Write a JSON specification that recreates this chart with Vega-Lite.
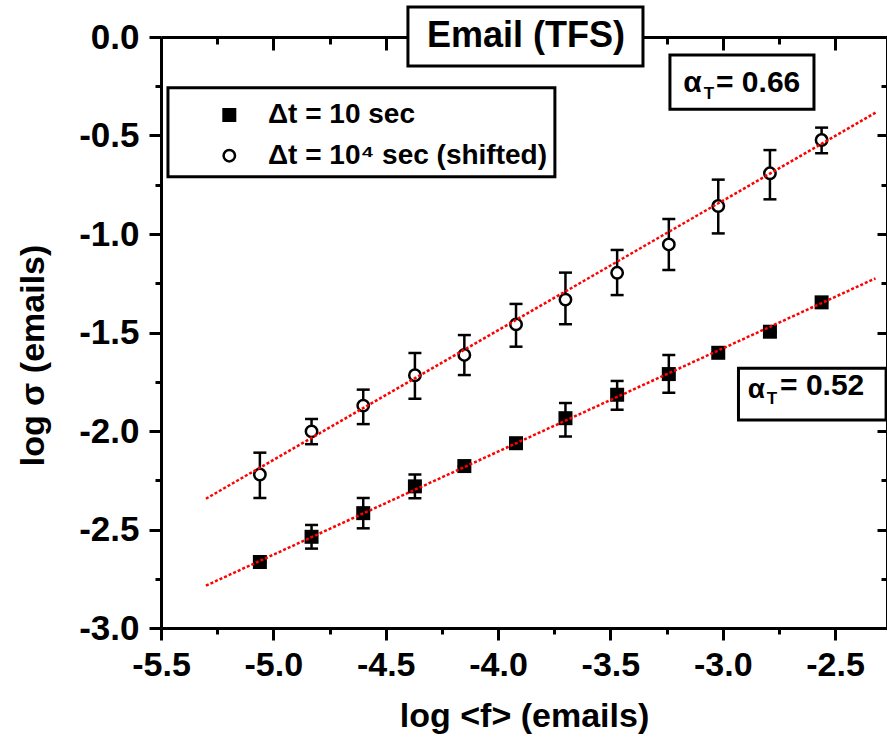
{
  "$schema": "https://vega.github.io/schema/vega-lite/v6.json",
  "width": 726,
  "height": 591,
  "autosize": "none",
  "padding": {"left": 161, "top": 37, "right": 0, "bottom": 115},
  "background": "white",
  "config": {"view": {"stroke": null}, "font": "Liberation Sans"},
  "datasets": {
    "pts": [
      {"series": "10 sec", "x": -5.06, "y": -2.665, "lo": -2.665, "hi": -2.665},
      {"series": "10 sec", "x": -4.83, "y": -2.537, "lo": -2.597, "hi": -2.477},
      {"series": "10 sec", "x": -4.60, "y": -2.417, "lo": -2.494, "hi": -2.340},
      {"series": "10 sec", "x": -4.37, "y": -2.281, "lo": -2.341, "hi": -2.221},
      {"series": "10 sec", "x": -4.15, "y": -2.178, "lo": -2.178, "hi": -2.178},
      {"series": "10 sec", "x": -3.92, "y": -2.062, "lo": -2.062, "hi": -2.062},
      {"series": "10 sec", "x": -3.70, "y": -1.935, "lo": -2.028, "hi": -1.858},
      {"series": "10 sec", "x": -3.47, "y": -1.816, "lo": -1.892, "hi": -1.746},
      {"series": "10 sec", "x": -3.24, "y": -1.711, "lo": -1.806, "hi": -1.614},
      {"series": "10 sec", "x": -3.02, "y": -1.603, "lo": -1.603, "hi": -1.603},
      {"series": "10 sec", "x": -2.79, "y": -1.496, "lo": -1.496, "hi": -1.496},
      {"series": "10 sec", "x": -2.56, "y": -1.347, "lo": -1.347, "hi": -1.347},
      {"series": "shifted", "x": -5.06, "y": -2.221, "lo": -2.340, "hi": -2.110},
      {"series": "shifted", "x": -4.83, "y": -2.002, "lo": -2.067, "hi": -1.939},
      {"series": "shifted", "x": -4.60, "y": -1.871, "lo": -1.965, "hi": -1.790},
      {"series": "shifted", "x": -4.37, "y": -1.717, "lo": -1.836, "hi": -1.604},
      {"series": "shifted", "x": -4.15, "y": -1.614, "lo": -1.716, "hi": -1.513},
      {"series": "shifted", "x": -3.92, "y": -1.459, "lo": -1.572, "hi": -1.355},
      {"series": "shifted", "x": -3.70, "y": -1.333, "lo": -1.458, "hi": -1.196},
      {"series": "shifted", "x": -3.47, "y": -1.197, "lo": -1.310, "hi": -1.081},
      {"series": "shifted", "x": -3.24, "y": -1.053, "lo": -1.183, "hi": -0.924},
      {"series": "shifted", "x": -3.02, "y": -0.858, "lo": -0.997, "hi": -0.724},
      {"series": "shifted", "x": -2.79, "y": -0.692, "lo": -0.824, "hi": -0.574},
      {"series": "shifted", "x": -2.56, "y": -0.523, "lo": -0.590, "hi": -0.460}
    ],
    "fits": [
      {"series": "10 sec", "x": -5.30, "y": -2.785},
      {"series": "10 sec", "x": -2.32, "y": -1.225},
      {"series": "shifted", "x": -5.30, "y": -2.344},
      {"series": "shifted", "x": -2.32, "y": -0.384}
    ]
  },
  "layer": [
    {
      "data": {"name": "pts"},
      "mark": {"type": "rule", "color": "black", "strokeWidth": 2.5},
      "encoding": {
        "x": {
          "field": "x", "type": "quantitative",
          "scale": {"domain": [-5.5, -2.269], "nice": false, "zero": false},
          "axis": {
            "orient": "bottom",
            "values": [-5.5, -5.25, -5, -4.75, -4.5, -4.25, -4, -3.75, -3.5, -3.25, -3, -2.75, -2.5],
            "labelExpr": "abs(datum.value*2 - round(datum.value*2)) < 0.001 ? replace(format(datum.value, '.1f'), '\u2212', '-') : ''",
            "tickSize": {"condition": {"test": "abs(datum.value*2 - round(datum.value*2)) < 0.001", "value": 12}, "value": 6},
            "tickWidth": 3, "tickColor": "black",
            "domainWidth": 3, "domainColor": "black",
            "labelFont": "Liberation Sans", "labelFontSize": 34, "labelFontWeight": "bold", "labelColor": "black",
            "labelPadding": 8, "labelFlush": false, "labelOverlap": false,
            "grid": false,
            "title": "log <f> (emails)",
            "titleFont": "Liberation Sans", "titleFontSize": 34, "titleFontWeight": "bold", "titleColor": "black",
            "titleBaseline": "alphabetic", "titleY": 98
          }
        },
        "y": {
          "field": "lo", "type": "quantitative",
          "scale": {"domain": [-3, 0], "nice": false, "zero": false},
          "axis": {
            "orient": "left",
            "values": [-3, -2.75, -2.5, -2.25, -2, -1.75, -1.5, -1.25, -1, -0.75, -0.5, -0.25, 0],
            "labelExpr": "abs(datum.value*2 - round(datum.value*2)) < 0.001 ? replace(format(datum.value, '.1f'), '\u2212', '-') : ''",
            "tickSize": {"condition": {"test": "abs(datum.value*2 - round(datum.value*2)) < 0.001", "value": 12}, "value": 6},
            "tickWidth": 3, "tickColor": "black",
            "domainWidth": 3, "domainColor": "black",
            "labelFont": "Liberation Sans", "labelFontSize": 35, "labelFontWeight": "bold", "labelColor": "black",
            "labelPadding": 10, "labelOverlap": false, "labelBaseline": "middle",
            "grid": false,
            "title": "log σ (emails)",
            "titleFont": "Liberation Sans", "titleFontSize": 34, "titleFontWeight": "bold", "titleColor": "black",
            "titleAngle": -90, "titleAlign": "center", "titleBaseline": "middle",
            "titleX": -128, "titleY": 318
          }
        },
        "y2": {"field": "hi"}
      }
    },
    {
      "data": {"name": "pts"},
      "mark": {"type": "tick", "orient": "horizontal", "color": "black", "size": 13, "thickness": 2.5, "opacity": 1},
      "encoding": {
        "x": {
          "field": "x", "type": "quantitative",
          "scale": {"domain": [-5.5, -2.269], "nice": false, "zero": false},
          "axis": {
            "orient": "top",
            "values": [-5.5, -5.25, -5, -4.75, -4.5, -4.25, -4, -3.75, -3.5, -3.25, -3, -2.75, -2.5],
            "labels": false,
            "tickSize": {"condition": {"test": "abs(datum.value*2 - round(datum.value*2)) < 0.001", "value": -13}, "value": -7},
            "tickWidth": 3, "tickColor": "black",
            "domainWidth": 3, "domainColor": "black",
            "grid": false, "title": null
          }
        },
        "y": {
          "field": "lo", "type": "quantitative",
          "scale": {"domain": [-3, 0], "nice": false, "zero": false},
          "axis": {
            "orient": "right",
            "values": [-3, -2.75, -2.5, -2.25, -2, -1.75, -1.5, -1.25, -1, -0.75, -0.5, -0.25, 0],
            "labels": false,
            "tickSize": {"condition": {"test": "abs(datum.value*2 - round(datum.value*2)) < 0.001", "value": -10}, "value": -6},
            "tickWidth": 3, "tickColor": "black",
            "domainWidth": 3, "domainColor": "black",
            "grid": false, "title": null
          }
        }
      }
    },
    {
      "data": {"name": "pts"},
      "mark": {"type": "tick", "orient": "horizontal", "color": "black", "size": 13, "thickness": 2.5, "opacity": 1},
      "encoding": {
        "x": {"field": "x", "type": "quantitative", "axis": null},
        "y": {"field": "hi", "type": "quantitative", "axis": null}
      }
    },
    {
      "data": {"name": "pts"},
      "transform": [{"filter": "datum.series == '10 sec'"}],
      "mark": {"type": "square", "color": "black", "size": 196, "opacity": 1},
      "encoding": {
        "x": {"field": "x", "type": "quantitative", "axis": null},
        "y": {"field": "y", "type": "quantitative", "axis": null}
      }
    },
    {
      "data": {"name": "pts"},
      "transform": [{"filter": "datum.series == 'shifted'"}],
      "mark": {"type": "point", "shape": "circle", "fill": "white", "stroke": "black", "strokeWidth": 2.5, "size": 130, "opacity": 1, "fillOpacity": 1},
      "encoding": {
        "x": {"field": "x", "type": "quantitative", "axis": null},
        "y": {"field": "y", "type": "quantitative", "axis": null}
      }
    },
    {
      "data": {"name": "fits"},
      "mark": {"type": "line", "color": "#ff0000", "strokeWidth": 2.5, "strokeDash": [3, 2]},
      "encoding": {
        "x": {"field": "x", "type": "quantitative", "axis": null},
        "y": {"field": "y", "type": "quantitative", "axis": null},
        "detail": {"field": "series"}
      }
    },
    {
      "data": {"values": [{}]},
      "mark": {"type": "rect", "fill": "white", "stroke": "black", "strokeWidth": 3},
      "encoding": {
        "x": {"datum": -4.401, "type": "quantitative", "axis": null},
        "x2": {"datum": -3.355},
        "y": {"datum": 0.152, "type": "quantitative", "axis": null},
        "y2": {"datum": -0.147}
      }
    },
    {
      "data": {"values": [{}]},
      "mark": {"type": "text", "text": "Email (TFS)", "font": "Liberation Sans", "fontSize": 36, "fontWeight": "bold", "color": "black", "align": "center", "baseline": "middle"},
      "encoding": {
        "x": {"datum": -3.876, "type": "quantitative", "axis": null},
        "y": {"datum": 0.005, "type": "quantitative", "axis": null}
      }
    },
    {
      "data": {"values": [{}]},
      "mark": {"type": "rect", "fill": "white", "stroke": "black", "strokeWidth": 3},
      "encoding": {
        "x": {"datum": -5.469, "type": "quantitative", "axis": null},
        "x2": {"datum": -3.747},
        "y": {"datum": -0.257, "type": "quantitative", "axis": null},
        "y2": {"datum": -0.709}
      }
    },
    {
      "data": {"values": [{}]},
      "mark": {"type": "square", "color": "black", "size": 196, "opacity": 1},
      "encoding": {
        "x": {"datum": -5.196, "type": "quantitative", "axis": null},
        "y": {"datum": -0.396, "type": "quantitative", "axis": null}
      }
    },
    {
      "data": {"values": [{}]},
      "mark": {"type": "point", "shape": "circle", "fill": "white", "stroke": "black", "strokeWidth": 2.5, "size": 130, "opacity": 1, "fillOpacity": 1},
      "encoding": {
        "x": {"datum": -5.196, "type": "quantitative", "axis": null},
        "y": {"datum": -0.6025, "type": "quantitative", "axis": null}
      }
    },
    {
      "data": {"values": [{}]},
      "mark": {"type": "text", "text": "Δt = 10 sec", "font": "Liberation Sans", "fontSize": 28, "fontWeight": "bold", "color": "black", "align": "left", "baseline": "middle"},
      "encoding": {
        "x": {"datum": -5.024, "type": "quantitative", "axis": null},
        "y": {"datum": -0.396, "type": "quantitative", "axis": null}
      }
    },
    {
      "data": {"values": [{}]},
      "mark": {"type": "text", "text": "Δt = 10⁴ sec (shifted)", "font": "Liberation Sans", "fontSize": 28, "fontWeight": "bold", "color": "black", "align": "left", "baseline": "middle"},
      "encoding": {
        "x": {"datum": -5.024, "type": "quantitative", "axis": null},
        "y": {"datum": -0.6025, "type": "quantitative", "axis": null}
      }
    },
    {
      "data": {"values": [{}]},
      "mark": {"type": "rect", "fill": "white", "stroke": "black", "strokeWidth": 3},
      "encoding": {
        "x": {"datum": -3.235, "type": "quantitative", "axis": null},
        "x2": {"datum": -2.594},
        "y": {"datum": -0.091, "type": "quantitative", "axis": null},
        "y2": {"datum": -0.367}
      }
    },
    {
      "data": {"values": [{}]},
      "mark": {"type": "text", "text": "α", "font": "Liberation Sans", "fontSize": 30, "fontWeight": "bold", "color": "black", "align": "center", "baseline": "middle"},
      "encoding": {
        "x": {"datum": -3.135, "type": "quantitative", "axis": null},
        "y": {"datum": -0.232, "type": "quantitative", "axis": null}
      }
    },
    {
      "data": {"values": [{}]},
      "mark": {"type": "text", "text": "T", "font": "Liberation Sans", "fontSize": 17, "fontWeight": "bold", "color": "black", "align": "center", "baseline": "middle"},
      "encoding": {
        "x": {"datum": -3.062, "type": "quantitative", "axis": null},
        "y": {"datum": -0.289, "type": "quantitative", "axis": null}
      }
    },
    {
      "data": {"values": [{}]},
      "mark": {"type": "text", "text": "=  0.66", "font": "Liberation Sans", "fontSize": 30, "fontWeight": "bold", "color": "black", "align": "left", "baseline": "middle"},
      "encoding": {
        "x": {"datum": -3.030, "type": "quantitative", "axis": null},
        "y": {"datum": -0.234, "type": "quantitative", "axis": null}
      }
    },
    {
      "data": {"values": [{}]},
      "mark": {"type": "rect", "fill": "white", "stroke": "black", "strokeWidth": 3},
      "encoding": {
        "x": {"datum": -2.930, "type": "quantitative", "axis": null},
        "x2": {"datum": -2.273},
        "y": {"datum": -1.682, "type": "quantitative", "axis": null},
        "y2": {"datum": -1.944}
      }
    },
    {
      "data": {"values": [{}]},
      "mark": {"type": "text", "text": "α", "font": "Liberation Sans", "fontSize": 28, "fontWeight": "bold", "color": "black", "align": "center", "baseline": "middle"},
      "encoding": {
        "x": {"datum": -2.850, "type": "quantitative", "axis": null},
        "y": {"datum": -1.790, "type": "quantitative", "axis": null}
      }
    },
    {
      "data": {"values": [{}]},
      "mark": {"type": "text", "text": "T", "font": "Liberation Sans", "fontSize": 17, "fontWeight": "bold", "color": "black", "align": "center", "baseline": "middle"},
      "encoding": {
        "x": {"datum": -2.781, "type": "quantitative", "axis": null},
        "y": {"datum": -1.840, "type": "quantitative", "axis": null}
      }
    },
    {
      "data": {"values": [{}]},
      "mark": {"type": "text", "text": "=  0.52", "font": "Liberation Sans", "fontSize": 30, "fontWeight": "bold", "color": "black", "align": "left", "baseline": "middle"},
      "encoding": {
        "x": {"datum": -2.745, "type": "quantitative", "axis": null},
        "y": {"datum": -1.774, "type": "quantitative", "axis": null}
      }
    }
  ],
  "resolve": {"axis": {"x": "independent", "y": "independent"}}
}
